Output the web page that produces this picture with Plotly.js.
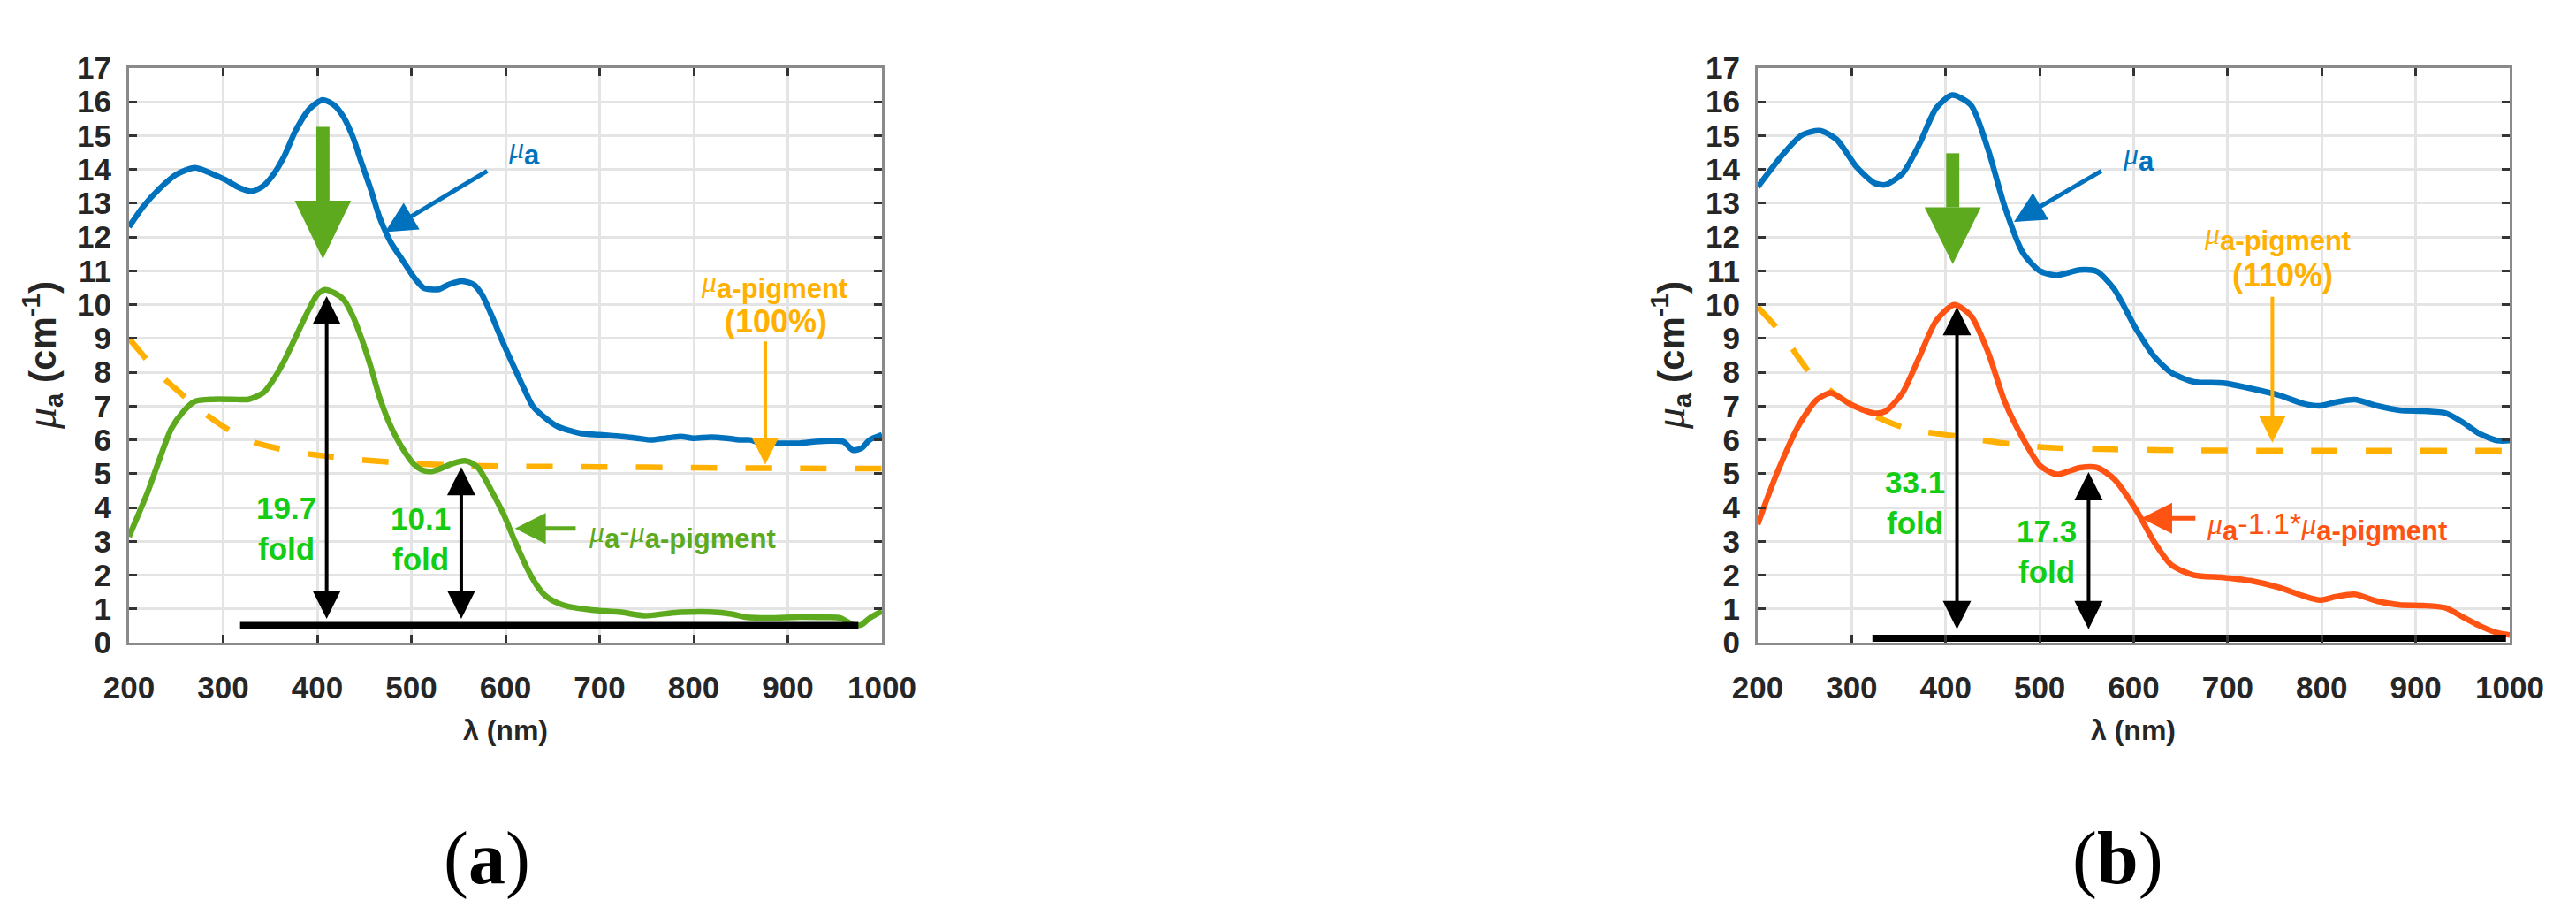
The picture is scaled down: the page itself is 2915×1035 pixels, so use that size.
<!DOCTYPE html>
<html>
<head>
<meta charset="utf-8">
<script src="https://cdn.plot.ly/plotly-3.0.1.min.js"></script>
<style>
  html, body { margin: 0; padding: 0; background: #fff; }
  #plot { width: 2915px; height: 1035px; }
</style>
</head>
<body>
<div id="plot"></div>
<script>
// ---- panel (a): values ----
const muA_a_x = [200, 215, 233, 250, 270, 290, 302, 318, 330, 342, 352, 365, 377, 392, 406, 418, 428, 438, 447, 457, 466, 478, 491, 503, 513, 528, 540, 553, 566, 575, 585, 597, 610, 620, 629, 640, 655, 679, 700, 723, 740, 755, 770, 786, 800, 818, 835, 849, 860, 874, 890, 912, 930, 944, 959, 969, 978, 987, 1000];
const muA_a_y = [12.3, 12.9, 13.45, 13.85, 14.05, 13.85, 13.7, 13.45, 13.35, 13.5, 13.8, 14.4, 15.15, 15.8, 16.06, 15.9, 15.55, 14.95, 14.2, 13.4, 12.6, 11.85, 11.3, 10.8, 10.5, 10.45, 10.6, 10.7, 10.6, 10.3, 9.7, 8.9, 8.1, 7.5, 7.0, 6.7, 6.4, 6.2, 6.15, 6.1, 6.05, 6.0, 6.05, 6.1, 6.05, 6.08, 6.05, 6.0, 6.0, 5.88, 5.9, 5.9, 5.95, 5.97, 5.95, 5.7, 5.75, 6.0, 6.15];

const diff_a_x = [200, 210, 220, 232, 245, 258, 270, 289, 310, 327, 343, 355, 365, 378, 390, 400, 408, 418, 428, 438, 447, 457, 466, 475, 484, 494, 503, 512, 522, 531, 541, 550, 557, 565, 572, 585, 598, 610, 623, 632, 642, 655, 667, 692, 723, 748, 770, 786, 818, 840, 855, 880, 912, 940, 956, 969, 978, 987, 1000];
const diff_a_y = [3.14, 3.8, 4.47, 5.4, 6.34, 6.85, 7.14, 7.2, 7.2, 7.2, 7.4, 7.85, 8.34, 9.1, 9.8, 10.3, 10.44, 10.35, 10.15, 9.65, 9.0, 8.15, 7.28, 6.6, 6.07, 5.6, 5.27, 5.1, 5.07, 5.15, 5.27, 5.35, 5.38, 5.3, 5.14, 4.5, 3.8, 3.0, 2.2, 1.75, 1.4, 1.18, 1.07, 0.97, 0.9, 0.8, 0.86, 0.9, 0.91, 0.85, 0.76, 0.73, 0.76, 0.75, 0.73, 0.53, 0.53, 0.73, 0.93];

const pig_a_x = [200, 215, 230, 250, 275, 300, 325, 350, 375, 400, 450, 500, 550, 600, 700, 800, 900, 1000];
const pig_a_y = [9.0, 8.5, 8.0, 7.5, 6.9, 6.4, 6.0, 5.8, 5.65, 5.55, 5.4, 5.3, 5.25, 5.22, 5.2, 5.18, 5.16, 5.15];

// ---- panel (b) ----
const muA_b_x = [200, 226, 247, 266, 284, 305, 324, 336, 354, 372, 390, 407, 427, 445, 463, 482, 500, 518, 543, 561, 579, 603, 622, 640, 664, 695, 725, 755, 780, 798, 816, 835, 859, 883, 908, 932, 950, 968, 987, 1000];
const muA_b_y = [13.48, 14.42, 15.02, 15.15, 14.89, 14.08, 13.6, 13.55, 13.88, 14.75, 15.82, 16.2, 15.9, 14.6, 12.88, 11.54, 11.0, 10.87, 11.03, 10.98, 10.47, 9.26, 8.46, 7.99, 7.72, 7.68, 7.52, 7.32, 7.08, 7.01, 7.12, 7.19, 7.01, 6.88, 6.85, 6.79, 6.52, 6.18, 5.98, 5.98];

const diff_b_x = [200, 220, 244, 263, 278, 299, 324, 336, 354, 372, 390, 409, 427, 445, 463, 482, 500, 518, 543, 561, 579, 603, 622, 640, 664, 695, 725, 755, 780, 798, 816, 835, 859, 883, 908, 932, 950, 968, 987, 1000];
const diff_b_y = [3.5, 4.98, 6.45, 7.19, 7.39, 7.05, 6.79, 6.85, 7.39, 8.46, 9.53, 10.0, 9.67, 8.6, 7.12, 6.05, 5.25, 4.98, 5.18, 5.18, 4.85, 3.91, 2.97, 2.3, 2.0, 1.93, 1.83, 1.63, 1.39, 1.26, 1.37, 1.43, 1.23, 1.12, 1.1, 1.03, 0.76, 0.5, 0.29, 0.23];

const pig_b_x = [200, 226, 257, 287, 323, 360, 409, 457, 506, 579, 664, 800, 1000];
const pig_b_y = [9.93, 9.13, 7.93, 7.26, 6.72, 6.32, 6.12, 5.92, 5.78, 5.72, 5.69, 5.68, 5.68];

// fold markers: [x of arrow, top of arrow] and the baseline bar
const foldA_x = [410, 553];
const foldA_top = [10.25, 5.2];
const baseA_x = [318, 975];
const baseA_y = 0.51;
const foldA_text = ['19.7', '10.1'];

const foldB_x = [412, 552];
const foldB_top = [9.93, 5.05];
const baseB_x = [322, 996];
const baseB_y = 0.13;
const foldB_text = ['33.1', '17.3'];

const xTicks = [200, 300, 400, 500, 600, 700, 800, 900, 1000];

const BLUE = '#0072BD';
const GREEN = '#5DAA1F';
const ORANGE = '#FFB000';
const RED = '#FF5314';
const LIME = '#14CC14';
const FONT = 'Liberation Sans, Arial, sans-serif';

function curve(x, y, color, xa, ya, dash) {
    return { x: x, y: y, xaxis: xa, yaxis: ya, type: 'scatter', mode: 'lines',
             line: { color: color, width: 6.5, shape: 'spline', smoothing: 0.7, dash: dash || 'solid' },
             hoverinfo: 'skip', showlegend: false };
}

const data = [
    curve(pig_a_x, pig_a_y, ORANGE, 'x', 'y', '30px,32px'),
    curve(muA_a_x, muA_a_y, BLUE, 'x', 'y'),
    curve(diff_a_x, diff_a_y, GREEN, 'x', 'y'),
    { x: baseA_x, y: [baseA_y, baseA_y], xaxis: 'x', yaxis: 'y', mode: 'lines',
      line: { color: 'black', width: 8 }, showlegend: false, hoverinfo: 'skip' },
    curve(pig_b_x, pig_b_y, ORANGE, 'x2', 'y2', '30px,32px'),
    curve(muA_b_x, muA_b_y, BLUE, 'x2', 'y2'),
    curve(diff_b_x, diff_b_y, RED, 'x2', 'y2'),
    { x: baseB_x, y: [baseB_y, baseB_y], xaxis: 'x2', yaxis: 'y2', mode: 'lines',
      line: { color: 'black', width: 8 }, showlegend: false, hoverinfo: 'skip' }
];

function xaxis(domain, anchor) {
    return { domain: domain, anchor: anchor, range: [200, 1000], tickvals: xTicks,
             showgrid: true, gridcolor: '#E4E4E4', gridwidth: 3, zeroline: false,
             showline: true, linecolor: '#8A8A8A', linewidth: 3, mirror: 'ticks',
             ticks: 'inside', ticklen: 9, tickwidth: 3, tickcolor: '#333',
             ticklabelstandoff: 18,
             tickfont: { family: FONT, size: 35, color: '#262626', weight: 'bold' },
             fixedrange: true };
}
function yaxis(domain, anchor) {
    return { domain: domain, anchor: anchor, range: [0, 17], dtick: 1, tick0: 0,
             showgrid: true, gridcolor: '#E4E4E4', gridwidth: 3, zeroline: false,
             showline: true, linecolor: '#8A8A8A', linewidth: 3, mirror: 'ticks',
             ticks: 'inside', ticklen: 9, tickwidth: 3, tickcolor: '#333',
             ticklabelstandoff: 10,
             tickfont: { family: FONT, size: 35, color: '#262626', weight: 'bold' },
             fixedrange: true };
}

const yDom = [1 - 727 / 1035, 1 - 77 / 1035];

function arrow(xr, yr, x, y, ax, ay, color, w, both, size) {
    return { xref: xr, yref: yr, axref: xr, ayref: yr, x: x, y: y, ax: ax, ay: ay,
             text: '', showarrow: true, arrowhead: 2, arrowsize: size || 1.4, arrowwidth: w,
             arrowcolor: color, arrowside: both ? 'end+start' : 'end',
             standoff: 0, startstandoff: 0 };
}
function label(xr, yr, x, y, text, color, size, xanchor, bold) {
    return { xref: xr, yref: yr, x: x, y: y, text: text, showarrow: false,
             xanchor: xanchor || 'center', yanchor: 'middle',
             font: { family: FONT, size: size, color: color, weight: bold ? 'bold' : 'normal' } };
}
function paperText(x, y, text, font, angle) {
    return { xref: 'paper', yref: 'paper', x: x / 2915, y: 1 - y / 1035, text: text,
             showarrow: false, xanchor: 'center', yanchor: 'middle', textangle: angle || 0, font: font };
}

const SUBA = '<sub><b><span style="font-size:31px">a</span></b></sub>';
const SUBP = '<sub><b><span style="font-size:31px">a-pigment</span></b></sub>';
const MU = '<span style="font-family:Liberation Serif;font-style:italic">μ</span>';
const YTITLE = '<span style="font-size:48px;font-family:Liberation Serif;font-style:italic">μ</span><sub><b>a</b></sub><b> (cm<sup>-1</sup>)</b>';
const AXFONT = { family: FONT, size: 32, color: '#262626' };
const YFONT = { family: FONT, size: 42, color: '#262626' };
const PANELFONT = { family: 'Liberation Serif, Times New Roman, serif', size: 84, color: '#000' };

const annotations = [
    // panel (a)
    arrow('x', 'y', 472, 12.15, 582, 13.98, BLUE, 5),
    label('x', 'y', 620, 14.55, MU + SUBA, BLUE, 34),
    label('x', 'y', 885, 10.6, MU + SUBP, ORANGE, 34),
    label('x', 'y', 887, 9.5, '(100%)', ORANGE, 36, 'center', true),
    arrow('x', 'y', 876, 5.27, 876, 8.95, ORANGE, 4, false, 1.5),
    arrow('x', 'y', 610, 3.38, 676, 3.38, GREEN, 5),
    label('x', 'y', 686, 3.2, MU + SUBA + '-' + MU + SUBP, GREEN, 34, 'left'),
    // panel (b)
    arrow('x2', 'y2', 472.6, 12.45, 567, 13.98, BLUE, 5),
    label('x2', 'y2', 605, 14.35, MU + SUBA, BLUE, 34),
    label('x2', 'y2', 753, 12.0, MU + SUBP, ORANGE, 34),
    label('x2', 'y2', 758, 10.87, '(110%)', ORANGE, 36, 'center', true),
    arrow('x2', 'y2', 747.5, 5.92, 747.5, 10.27, ORANGE, 4, false, 1.5),
    arrow('x2', 'y2', 608, 3.68, 667, 3.68, RED, 5),
    label('x2', 'y2', 676, 3.45, MU + SUBA + '-1.1*' + MU + SUBP, RED, 34, 'left'),
    // axis titles and panel letters
    paperText(572, 826, '<b>λ (nm)</b>', AXFONT),
    paperText(2414, 826, '<b>λ (nm)</b>', AXFONT),
    paperText(47, 402, YTITLE, YFONT, -90),
    paperText(1890, 402, YTITLE, YFONT, -90),
    paperText(551, 971, '(<b>a</b>)', PANELFONT),
    paperText(2396, 971, '(<b>b</b>)', PANELFONT)
];

// double-headed fold arrows and their labels
foldA_x.forEach(function (fx, i) {
    annotations.push(arrow('x', 'y', fx, foldA_top[i], fx, baseA_y + 0.16, 'black', 4, true, 1.6));
    annotations.push(label('x', 'y', fx - 43, i === 0 ? 3.4 : 3.07, foldA_text[i] + '<br>fold', LIME, 35, 'center', true));
});
foldB_x.forEach(function (fx, i) {
    annotations.push(arrow('x2', 'y2', fx, foldB_top[i], fx, baseB_y + 0.23, 'black', 4, true, 1.6));
    annotations.push(label('x2', 'y2', fx - 45, i === 0 ? 4.15 : 2.7, foldB_text[i] + '<br>fold', LIME, 35, 'center', true));
});

// big green "subtract" arrows
function bigArrow(xr, yr, cx, top, base, tip) {
    return [
        { type: 'rect', xref: xr, yref: yr, x0: cx - 7, x1: cx + 7, y0: base, y1: top,
          fillcolor: GREEN, line: { width: 0 } },
        { type: 'path', xref: xr, yref: yr,
          path: 'M ' + (cx - 30) + ',' + base + ' L ' + (cx + 30) + ',' + base + ' L ' + cx + ',' + tip + ' Z',
          fillcolor: GREEN, line: { width: 0 } }
    ];
}
const shapes = [].concat(
    bigArrow('x', 'y', 406, 15.26, 13.08, 11.35),
    bigArrow('x2', 'y2', 407.5, 14.48, 12.88, 11.2)
);

const layout = {
    width: 2915, height: 1035,
    margin: { l: 0, r: 0, t: 0, b: 0 },
    paper_bgcolor: '#fff', plot_bgcolor: '#fff',
    showlegend: false,
    xaxis: xaxis([146 / 2915, 998 / 2915], 'y'),
    yaxis: yaxis(yDom, 'x'),
    xaxis2: xaxis([1989 / 2915, 2840 / 2915], 'y2'),
    yaxis2: yaxis(yDom, 'x2'),
    annotations: annotations,
    shapes: shapes
};

Plotly.newPlot('plot', data, layout, { staticPlot: true, displayModeBar: false });
</script>
</body>
</html>
